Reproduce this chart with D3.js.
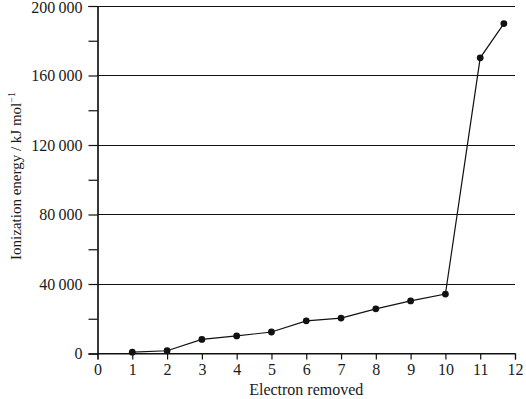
<!DOCTYPE html>
<html>
<head>
<meta charset="utf-8">
<script src="https://cdn.jsdelivr.net/npm/d3@7"></script>
<style>
  body { margin: 0; background: white; }
  text { font-family: "Liberation Serif", "DejaVu Serif", serif; fill: #1a1a1a; }
</style>
</head>
<body>
<div id="chart"></div>
<script>
// electron number (x position as drawn) and ionization energy
var electronPos = [1, 2, 3, 4, 5, 6, 7, 8, 9, 10, 11, 11.68];
var energy = [500, 1300, 7800, 9800, 12100, 18500, 20100, 25400, 30000, 33900, 169900, 189600];

var xTicks = [0, 1, 2, 3, 4, 5, 6, 7, 8, 9, 10, 11, 12];
var yGrid = [0, 40000, 80000, 120000, 160000, 200000];
var yMinor = [20000, 60000, 100000, 140000, 180000];

const width = 526;
const height = 399;
const margin = {left: 97.5, right: 11, top: 5.5, bottom: 46};

const x = d3.scaleLinear()
    .domain([0, 12])
    .range([margin.left, width - margin.right]);

const y = d3.scaleLinear()
    .domain([0, 200000])
    .range([height - margin.bottom, margin.top]);

const svg = d3.select("#chart").append("svg")
    .attr("width", width)
    .attr("height", height);

// thin space as thousands separator
function fmt(v) {
    return v >= 1000 ? Math.floor(v / 1000) + "\u2009" + "000" : String(v);
}

// horizontal gridlines at the labelled values
svg.append("g")
    .selectAll("line")
    .data(yGrid)
    .enter()
    .append("line")
    .attr("x1", margin.left)
    .attr("x2", width - margin.right)
    .attr("y1", function(d) { return Math.round(y(d)) + 0.5; })
    .attr("y2", function(d) { return Math.round(y(d)) + 0.5; })
    .style("stroke", "#111")
    .style("stroke-width", 1.2);

// y axis (major labelled ticks)
var yAxis = svg.append("g")
    .attr("transform", `translate(${margin.left},0.5)`)
    .call(d3.axisLeft(y).tickValues(yGrid).tickFormat(fmt).tickSize(9).tickPadding(6));

// top label pushed down a little so it is not clipped
yAxis.selectAll(".tick text").filter(function(d) { return d === 200000; }).attr("dy", "0.42em");

// minor y ticks
svg.append("g")
    .attr("transform", `translate(${margin.left},0.5)`)
    .call(d3.axisLeft(y).tickValues(yMinor).tickFormat("").tickSize(9));

// x axis
var xAxis = svg.append("g")
    .attr("transform", `translate(0,${Math.round(y(0)) + 0.5})`)
    .call(d3.axisBottom(x).tickValues(xTicks).tickSize(6).tickPadding(4));

svg.selectAll(".domain").style("stroke", "#111").style("stroke-width", 1.2);
svg.selectAll(".tick line").style("stroke", "#111").style("stroke-width", 1.2);
svg.selectAll(".tick text")
    .style("font-family", "'Liberation Serif', 'DejaVu Serif', serif")
    .style("font-size", "16px")
    .style("fill", "#1a1a1a");

// line + dots
var data = electronPos.map(function(d, i) { return [d, energy[i]]; });

svg.append("path")
    .datum(data)
    .attr("fill", "none")
    .attr("stroke", "#111")
    .attr("stroke-width", 1.2)
    .attr("d", d3.line()
        .x(function(d) { return x(d[0]); })
        .y(function(d) { return y(d[1]); }));

svg.selectAll("circle")
    .data(data)
    .enter()
    .append("circle")
    .attr("cx", function(d) { return x(d[0]); })
    .attr("cy", function(d) { return y(d[1]); })
    .attr("r", 3.4)
    .style("fill", "#111");

// axis titles
svg.append("text")
    .attr("x", (x(0) + x(12)) / 2)
    .attr("y", 395)
    .attr("text-anchor", "middle")
    .style("font-size", "16px")
    .text("Electron removed");

var yTitle = svg.append("text")
    .attr("transform", "translate(21,176) rotate(-90)")
    .attr("text-anchor", "middle")
    .style("font-size", "15px");
yTitle.append("tspan").text("Ionization energy / kJ mol");
yTitle.append("tspan").attr("dy", -6).style("font-size", "10px").text("\u22121");
</script>
</body>
</html>
